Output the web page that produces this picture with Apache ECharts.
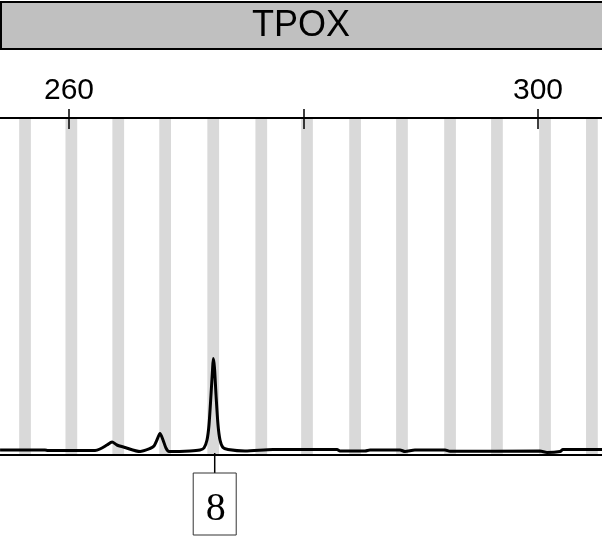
<!DOCTYPE html>
<html>
<head>
<meta charset="utf-8">
<script src="https://cdn.jsdelivr.net/npm/echarts@6/dist/echarts.min.js"></script>
<style>html,body{margin:0;padding:0;background:#fff}#c{width:602px;height:538px}</style>
</head>
<body>
<div id="c"></div>
<script>
const markerName = 'TPOX';
const tickValues = [260, 280, 300];
const tickLabels = [260, 300];
const binCenters = [256.25, 260.2, 264.2, 268.2, 272.3, 276.4, 280.3, 284.4, 288.4, 292.5, 296.5, 300.6, 304.6];
const traceX = [254.12, 257.95, 258.2, 262.22, 262.64, 263.24, 263.67, 264.09, 264.78, 266.06, 266.91, 267.25, 267.5, 267.76, 268.02, 268.27, 268.53, 270.32, 271.17, 271.51, 271.77, 271.94, 272.11, 272.24, 272.31, 272.41, 272.54, 272.71, 272.88, 273.13, 273.56, 275.01, 277.4, 282.86, 283.11, 285.25, 285.67, 288.23, 288.66, 289.5, 292.07, 292.5, 300.17, 300.77, 301.88, 302.13, 305.46];
const traceY = [50, 50, 45, 45, 60, 100, 130, 100, 75, 35, 65, 90, 150, 215, 150, 70, 35, 40, 50, 70, 150, 300, 600, 850, 965, 870, 600, 300, 150, 75, 55, 40, 55, 55, 40, 40, 50, 50, 35, 50, 50, 37, 40, 25, 35, 55, 55];
const alleleCalls = [[272.3, '8']];

const xMin = 254.115, xMax = 305.46;
const chart = echarts.init(document.getElementById('c'), null, {renderer: 'canvas'});
const option = {
  animation: false,
  backgroundColor: '#fff',
  grid: {left: 0, right: 0, top: 118, bottom: 83, containLabel: false},
  xAxis: [
    {type: 'value', position: 'top', min: xMin, max: xMax, z: 10,
     axisLine: {show: true, onZero: false, lineStyle: {color: '#000', width: 2}},
     axisTick: {show: true, customValues: tickValues, length: 9, inside: false, lineStyle: {color: '#000', width: 1.5}},
     axisLabel: {show: true, customValues: tickLabels, fontSize: 30, fontFamily: 'Liberation Sans, Arial, sans-serif', color: '#000', margin: 12},
     splitLine: {show: false}},
    {type: 'value', position: 'top', min: xMin, max: xMax, z: 10,
     axisLine: {show: false, onZero: false},
     axisTick: {show: true, customValues: tickValues, length: 11, inside: true, lineStyle: {color: '#000', width: 1.5}},
     axisLabel: {show: false}, splitLine: {show: false}},
    {type: 'value', position: 'bottom', min: xMin, max: xMax, z: 10,
     axisLine: {show: true, onZero: false, lineStyle: {color: '#000', width: 2}},
     axisTick: {show: false}, axisLabel: {show: false}, splitLine: {show: false}}
  ],
  yAxis: {type: 'value', min: 0, max: 3370, show: false},
  graphic: [
    {type: 'rect', shape: {x: 1, y: 2, width: 640, height: 47}, style: {fill: '#c0c0c0', stroke: '#000', lineWidth: 2}, z: 10},
    {type: 'text', x: 301, y: 26, style: {text: markerName, fontSize: 36, fontFamily: 'Liberation Sans, Arial, sans-serif', fill: '#000', textAlign: 'center', textVerticalAlign: 'middle'}, z: 11}
  ],
  series: [
    {type: 'line', xAxisIndex: 0, data: [], z: 1,
     markArea: {silent: true, itemStyle: {color: '#d9d9d9'},
       data: binCenters.map(c => [{xAxis: c - 0.5}, {xAxis: c + 0.5}])}},
    {type: 'line', xAxisIndex: 0, z: 5, symbol: 'none', smooth: 0.25,
     lineStyle: {color: '#000', width: 3},
     data: traceX.map((x, i) => [x, traceY[i]])},
    {type: 'custom', xAxisIndex: 0, z: 6, clip: false,
     data: alleleCalls,
     renderItem: function (params, api) {
       const p = api.coord([api.value(0), 0]);
       const cx = p[0] + 1.5;
       const top = p[1] + 18;
       return {type: 'group', children: [
         {type: 'line', shape: {x1: cx, y1: p[1] - 2, x2: cx, y2: top}, style: {stroke: '#000', lineWidth: 1.5}},
         {type: 'rect', shape: {x: cx - 21.5, y: top, width: 43, height: 62}, style: {fill: '#fff', stroke: '#333', lineWidth: 1}},
         {type: 'text', x: cx + 1, y: top + 36, style: {text: String(api.value(1)), fontSize: 40, fontFamily: 'Liberation Serif, Times New Roman, serif', fill: '#000', textAlign: 'center', textVerticalAlign: 'middle'}}
       ]};
     }}
  ]
};
chart.setOption(option);
</script>
</body>
</html>
